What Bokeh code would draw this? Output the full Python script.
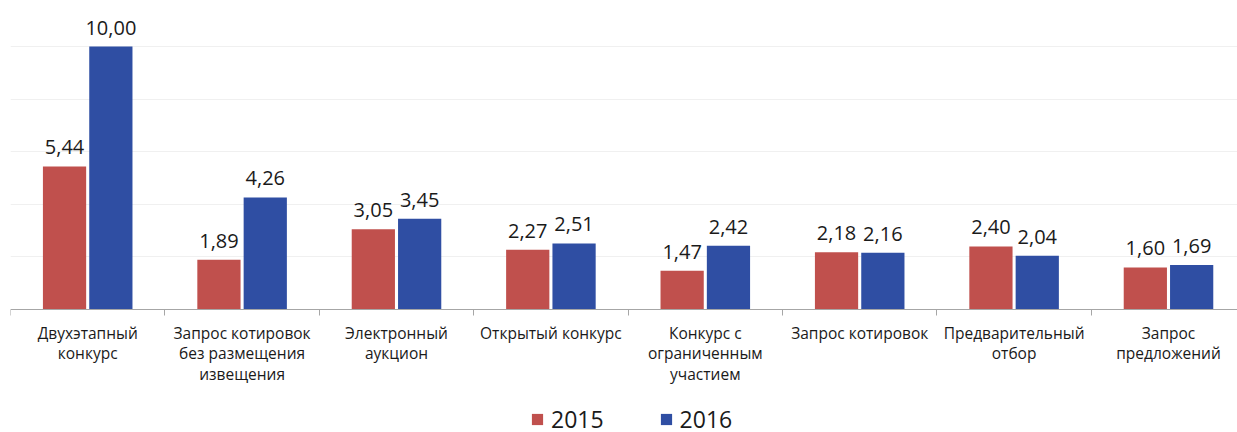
from bokeh.plotting import figure
from bokeh.models import Range1d, FixedTicker, ColumnDataSource, Legend, LegendItem
from bokeh.core.properties import value
from bokeh.embed import file_html
from bokeh.resources import INLINE

categories = ["Двухэтапный\nконкурс", "Запрос котировок\nбез размещения\nизвещения",
              "Электронный\nаукцион", "Открытый конкурс", "Конкурс с\nограниченным\nучастием",
              "Запрос котировок", "Предварительный\nотбор", "Запрос\nпредложений"]
v2015 = [5.44, 1.89, 3.05, 2.27, 1.47, 2.18, 2.40, 1.60]
v2016 = [10.00, 4.26, 3.45, 2.51, 2.42, 2.16, 2.04, 1.69]
series_names = ["2015", "2016"]
colors = ["#C0504D", "#2F4EA3"]
FONT = "Open Sans"

n = len(categories)
centers = [i + 0.5 for i in range(n)]
cat_px = 154.4
px_per_unit = 26.3
base_px = 309          # baseline position from top of frame
FW, FH = 1227, 450
p = figure(frame_width=FW, frame_height=FH, output_backend="svg", toolbar_location=None,
           x_range=Range1d(0, FW / cat_px),
           y_range=Range1d(-(FH - base_px) / px_per_unit, base_px / px_per_unit),
           min_border_left=10, min_border_right=0, min_border_top=0, min_border_bottom=0)
p.outline_line_color = None
p.yaxis.visible = False
p.ygrid.ticker = FixedTicker(ticks=[2, 4, 6, 8, 10])
p.ygrid.grid_line_color = "#F0F0F0"
p.xgrid.grid_line_color = None

offs = [-0.15, 0.15]
rends = []
for vals, off, col in zip([v2015, v2016], offs, colors):
    src = ColumnDataSource(dict(x=[c + off for c in centers], top=vals,
                                lab=[f"{v:.2f}".replace(".", ",") for v in vals]))
    r = p.vbar(x="x", top="top", width=0.28, bottom=0, source=src, fill_color=col, line_color=None)
    rends.append(r)
    p.text(x="x", y="top", text="lab", source=src, text_align="center", text_baseline="alphabetic",
           y_offset=-19, text_font=value(FONT), text_font_size="20px", text_color="#1a1a1a")

ax = p.xaxis[0]
ax.fixed_location = 0
ax.ticker = FixedTicker(ticks=centers, minor_ticks=list(range(n + 1)))
ax.major_label_overrides = {c: lab for c, lab in zip(centers, categories)}
ax.major_tick_line_color = None
ax.major_tick_out = 0
ax.major_tick_in = 0
ax.minor_tick_in = 0
ax.minor_tick_out = 6
ax.minor_tick_line_color = "#A6A6A6"
ax.axis_line_color = "#A6A6A6"
ax.major_label_standoff = 6
ax.major_label_text_font = FONT
ax.major_label_text_font_size = "15.5px"
ax.major_label_text_color = "#1a1a1a"
ax.major_label_text_line_height = 0.95

legend = Legend(items=[LegendItem(label=nm, renderers=[r]) for nm, r in zip(series_names, rends)],
                orientation="horizontal", location=(520, 15), border_line_color=None,
                background_fill_alpha=0, label_text_font=FONT, label_text_font_size="23px",
                label_text_color="#1a1a1a", glyph_width=14, glyph_height=14, label_standoff=7,
                spacing=55, padding=0, margin=0)
p.add_layout(legend, "center")

open("out.html", "w").write(file_html(p, INLINE))
